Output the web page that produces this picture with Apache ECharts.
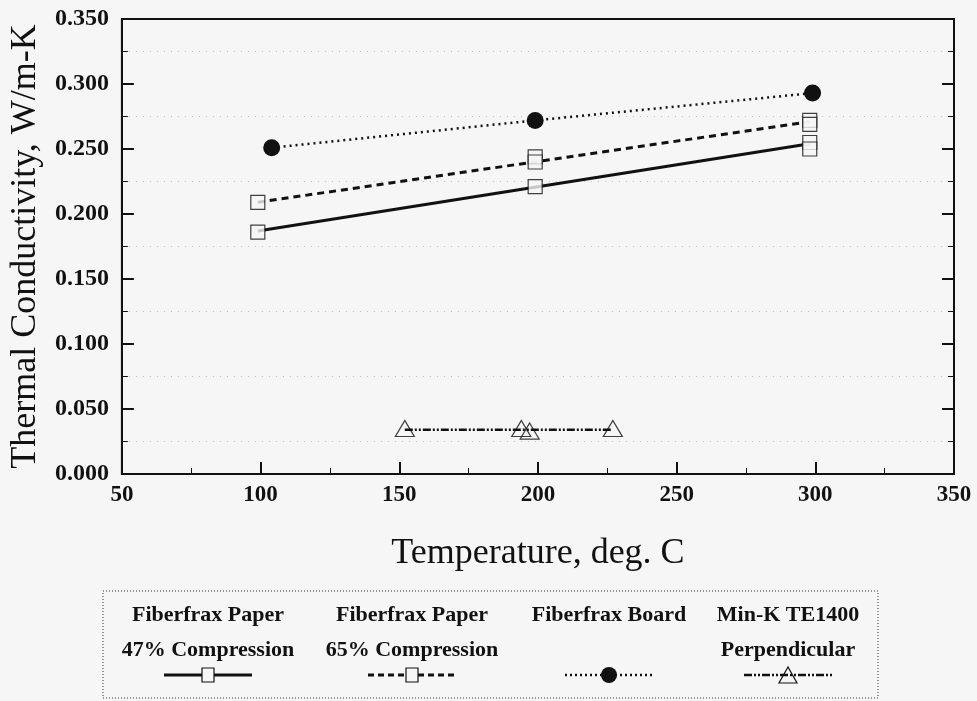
<!DOCTYPE html>
<html>
<head>
<meta charset="utf-8">
<script src="https://cdn.jsdelivr.net/npm/echarts@6/dist/echarts.min.js"></script>
<style>
  html, body { margin: 0; padding: 0; background: #f6f6f6; }
  #main { width: 977px; height: 701px; }
</style>
</head>
<body>
<div id="main"></div>
<script>
// data (temperature deg C, conductivity W/m-K)
var paper47Points = [[99, 0.186], [199, 0.221], [298, 0.255], [298, 0.250]];
var paper47Fit = [[99, 0.187], [298, 0.254]];
var paper65Points = [[99, 0.209], [199, 0.244], [199, 0.240], [298, 0.272], [298, 0.269]];
var paper65Fit = [[99, 0.209], [298, 0.271]];
var boardPoints = [[104, 0.251], [199, 0.272], [299, 0.293]];
var minKPoints = [[152, 0.035], [194, 0.035], [197, 0.033], [227, 0.035]];
var minKFit = [[152, 0.034], [227, 0.034]];

var legendNames = [
  ['Fiberfrax Paper', '47% Compression'],
  ['Fiberfrax Paper', '65% Compression'],
  ['Fiberfrax Board', ''],
  ['Min-K TE1400', 'Perpendicular']
];

var serif = 'Liberation Serif';
var ink = '#111';

var myChart = echarts.init(document.getElementById('main'));

var openMark = { color: '#f6f6f6', borderColor: ink, borderWidth: 1.2 };

// legend drawn by hand: two text rows, sample line + marker under them
var legendX = [208, 412, 609, 788];
var legendGraphic = [{
  type: 'rect',
  shape: { x: 103, y: 591, width: 775, height: 107 },
  style: { fill: 'none', stroke: '#333', lineWidth: 1, lineDash: [1, 2] }
}];
for (var i = 0; i < legendNames.length; i++) {
  legendGraphic.push({
    type: 'text', x: legendX[i], y: 615,
    style: { text: legendNames[i][0], font: 'bold 22px ' + serif, fill: ink, align: 'center', verticalAlign: 'middle' }
  });
  legendGraphic.push({
    type: 'text', x: legendX[i], y: 650,
    style: { text: legendNames[i][1], font: 'bold 22px ' + serif, fill: ink, align: 'center', verticalAlign: 'middle' }
  });
}
var legendLines = [
  { dash: null, w: 3 },
  { dash: [6, 4], w: 3 },
  { dash: [2, 3], w: 2.5 },
  { dash: [8, 2, 2, 2, 2, 2], w: 2.5 }
];
for (var j = 0; j < legendLines.length; j++) {
  legendGraphic.push({
    type: 'line',
    shape: { x1: legendX[j] - 44, y1: 675, x2: legendX[j] + 44, y2: 675 },
    style: { stroke: ink, lineWidth: legendLines[j].w, lineDash: legendLines[j].dash }
  });
}
legendGraphic.push({ type: 'rect', shape: { x: legendX[0] - 6, y: 668, width: 12, height: 14 }, style: { fill: '#f6f6f6', stroke: ink, lineWidth: 1.2 } });
legendGraphic.push({ type: 'rect', shape: { x: legendX[1] - 6, y: 668, width: 12, height: 14 }, style: { fill: '#f6f6f6', stroke: ink, lineWidth: 1.2 } });
legendGraphic.push({ type: 'circle', shape: { cx: legendX[2], cy: 675, r: 8 }, style: { fill: ink } });
legendGraphic.push({ type: 'polygon', shape: { points: [[legendX[3], 667], [legendX[3] - 9, 683], [legendX[3] + 9, 683]] }, style: { fill: 'none', stroke: ink, lineWidth: 1.2 } });

myChart.setOption({
  backgroundColor: '#f6f6f6',
  animation: false,
  grid: {
    left: 120, right: 23, top: 19, bottom: 227,
    show: true, borderColor: ink, borderWidth: 2, backgroundColor: '#f6f6f6'
  },
  xAxis: {
    type: 'value', min: 50, max: 350, interval: 50,
    name: 'Temperature, deg. C',
    nameLocation: 'middle', nameGap: 62,
    nameTextStyle: { fontFamily: serif, fontSize: 36, color: ink },
    axisLine: { lineStyle: { color: ink, width: 2 } },
    axisTick: { inside: true, length: 12, lineStyle: { color: ink, width: 2 } },
    minorTick: { show: true, splitNumber: 2, length: 6, lineStyle: { color: ink } },
    splitLine: { show: false },
    axisLabel: { fontFamily: serif, fontSize: 23, fontWeight: 'bold', color: ink, margin: 10 }
  },
  yAxis: [{
    type: 'value', min: 0, max: 0.35, interval: 0.05,
    name: 'Thermal Conductivity, W/m-K',
    nameLocation: 'middle', nameGap: 72,
    nameTextStyle: { fontFamily: serif, fontSize: 36, color: ink },
    axisLine: { show: true, lineStyle: { color: ink, width: 2 } },
    axisTick: { show: true, inside: true, length: 12, lineStyle: { color: ink, width: 2 } },
    minorTick: { show: true, splitNumber: 2, length: 6, lineStyle: { color: ink } },
    splitLine: { show: false },
    minorSplitLine: { show: true, lineStyle: { color: '#bbb', type: [1, 6], width: 1 } },
    axisLabel: {
      fontFamily: serif, fontSize: 24, fontWeight: 'bold', color: ink, margin: 13,
      formatter: function (v) { return v.toFixed(3); }
    }
  }, {
    type: 'value', min: 0, max: 0.35, interval: 0.05, position: 'right',
    axisLine: { show: true, lineStyle: { color: ink, width: 2 } },
    axisTick: { show: true, inside: true, length: 12, lineStyle: { color: ink, width: 2 } },
    minorTick: { show: true, splitNumber: 2, length: 6, lineStyle: { color: ink } },
    splitLine: { show: false },
    axisLabel: { show: false }
  }],
  series: [
    {
      name: '47% fit', type: 'line', data: paper47Fit, symbol: 'none',
      lineStyle: { color: ink, width: 3 }, z: 2
    },
    {
      name: 'Fiberfrax Paper 47% Compression', type: 'scatter', data: paper47Points,
      symbol: 'rect', symbolSize: 14, itemStyle: openMark, z: 3
    },
    {
      name: '65% fit', type: 'line', data: paper65Fit, symbol: 'none',
      lineStyle: { color: ink, width: 3, type: [7, 5] }, z: 2
    },
    {
      name: 'Fiberfrax Paper 65% Compression', type: 'scatter', data: paper65Points,
      symbol: 'rect', symbolSize: 14, itemStyle: openMark, z: 3
    },
    {
      name: 'Fiberfrax Board', type: 'line', data: boardPoints,
      symbol: 'circle', symbolSize: 17, itemStyle: { color: ink },
      lineStyle: { color: ink, width: 2.5, type: [2, 4] }, z: 3
    },
    {
      name: 'Min-K fit', type: 'line', data: minKFit, symbol: 'none',
      lineStyle: { color: ink, width: 2.5, type: [8, 2, 2, 2, 2, 2] }, z: 2
    },
    {
      name: 'Min-K TE1400 Perpendicular', type: 'scatter', data: minKPoints,
      symbol: 'triangle', symbolSize: [19, 16],
      itemStyle: { color: 'rgba(0,0,0,0)', borderColor: ink, borderWidth: 1.2 }, z: 3
    }
  ],
  graphic: legendGraphic
});
</script>
</body>
</html>
